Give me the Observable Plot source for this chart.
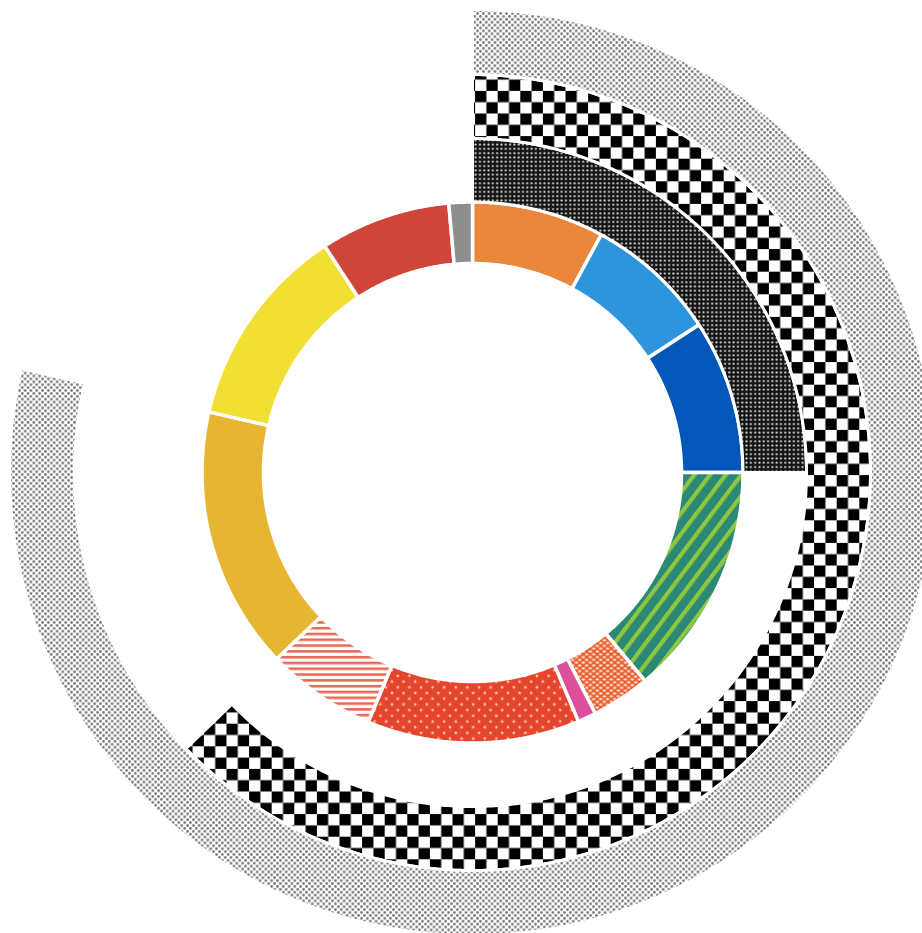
<!DOCTYPE html>
<html>
<head>
<meta charset="utf-8">
<script src="https://cdn.jsdelivr.net/npm/d3@7"></script>
<script src="https://cdn.jsdelivr.net/npm/@observablehq/plot@0.6"></script>
<style>
  html, body { margin: 0; padding: 0; background: #fff; overflow: hidden; }
  #chart svg { display: block; }
</style>
</head>
<body>
<div id="chart"></div>
<script>
// ---- Data (percent of full circle) ----
const categories = ["Orange", "Light blue", "Dark blue", "Green stripes", "Orange lattice", "Pink",
                    "Red dots", "Salmon stripes", "Gold", "Yellow", "Red", "Gray"];
const shares = [7.9, 7.9, 9.2, 14.0, 3.5, 1.1, 12.7, 6.6, 15.7, 12.2, 7.8, 1.4];
const fills = ["#E9873D", "#2E95DC", "#0457B9", "url(#p-green)", "url(#p-lattice)", "#DE4F9B",
               "url(#p-reddots)", "url(#p-hstripes)", "#E6B532", "#F2DF33", "#D0453A", "#8E8E8E"];

const outerRings = ["Dark dots", "Checker", "Light dots"];
const outerShares = [25.0, 62.8, 78.6];
const outerFills = ["url(#p-darkdots)", "url(#p-checker)", "url(#p-lightdots)"];

// ---- Layout ----
const W = 922, H = 933;
const ringEdges = [209, 270.5, 334, 398, 463]; // radii of ring boundaries (px units)

function arcPoints(p0, p1, r0, r1) {
  const a0 = p0 / 100 * 2 * Math.PI, a1 = p1 / 100 * 2 * Math.PI;
  const n = Math.max(2, Math.ceil((a1 - a0) / (Math.PI / 360)));
  const pts = [];
  for (let i = 0; i <= n; i++) { const a = a0 + (a1 - a0) * i / n; pts.push({x: r1 * Math.sin(a), y: r1 * Math.cos(a)}); }
  for (let i = n; i >= 0; i--) { const a = a0 + (a1 - a0) * i / n; pts.push({x: r0 * Math.sin(a), y: r0 * Math.cos(a)}); }
  pts.push(pts[0]);
  return pts;
}

const marks = [];
let cum = 0;
shares.forEach((s, i) => {
  const pts = arcPoints(cum, cum + s, ringEdges[0], ringEdges[1]);
  cum += s;
  marks.push(Plot.line(pts, {x: "x", y: "y", fill: fills[i], stroke: "white", strokeWidth: 3.5, strokeLinejoin: "miter", title: () => categories[i]}));
});
outerShares.forEach((s, i) => {
  const pts = arcPoints(0, s, ringEdges[i + 1], ringEdges[i + 2]);
  marks.push(Plot.line(pts, {x: "x", y: "y", fill: outerFills[i], stroke: "white", strokeWidth: 3, strokeLinejoin: "miter", title: () => outerRings[i]}));
});

const svg = Plot.plot({
  width: W, height: H,
  margin: 0,
  x: {domain: [-472, W - 472], axis: null},
  y: {domain: [-(H - 472), 472], axis: null},
  marks
});

// ---- Patterns ----
const defs = d3.select(svg).insert("defs", ":first-child");
function pat(id, w, h, build, transform) {
  const p = defs.append("pattern").attr("id", id).attr("patternUnits", "userSpaceOnUse")
    .attr("width", w).attr("height", h);
  if (transform) p.attr("patternTransform", transform);
  build(p);
}
pat("p-green", 12.5, 12.5, p => {
  p.append("rect").attr("width", 12.5).attr("height", 12.5).attr("fill", "#2B8776");
  p.append("rect").attr("width", 12.5).attr("height", 4.2).attr("fill", "#8DC63F");
}, "rotate(-53)");
pat("p-lattice", 7, 5.6, p => {
  p.append("rect").attr("width", 7).attr("height", 5.6).attr("fill", "#E95D2C");
  p.append("ellipse").attr("cx", 1.75).attr("cy", 1.4).attr("rx", 1.8).attr("ry", 1.1).attr("fill", "#FDE6D6");
  p.append("ellipse").attr("cx", 5.25).attr("cy", 4.2).attr("rx", 1.8).attr("ry", 1.1).attr("fill", "#FDE6D6");
});
pat("p-reddots", 11.6, 11.4, p => {
  p.append("rect").attr("width", 11.6).attr("height", 11.4).attr("fill", "#E5442F");
  p.append("circle").attr("cx", 2.9).attr("cy", 2.85).attr("r", 1.4).attr("fill", "#F8C49A");
  p.append("circle").attr("cx", 8.7).attr("cy", 8.55).attr("r", 1.4).attr("fill", "#F8C49A");
});
pat("p-hstripes", 6, 5.8, p => {
  p.append("rect").attr("width", 6).attr("height", 5.8).attr("fill", "#FFFFFF");
  p.append("rect").attr("width", 6).attr("height", 2.6).attr("fill", "#E76A57");
});
pat("p-darkdots", 4.3, 4.3, p => {
  p.append("rect").attr("width", 4.3).attr("height", 4.3).attr("fill", "#141414");
  p.append("circle").attr("cx", 2.15).attr("cy", 2.15).attr("r", 1.1).attr("fill", "#D0D0D0");
});
pat("p-checker", 22.6, 22.6, p => {
  p.append("rect").attr("width", 22.6).attr("height", 22.6).attr("fill", "#FFFFFF");
  p.append("rect").attr("width", 11.3).attr("height", 11.3).attr("fill", "#000");
  p.append("rect").attr("x", 11.3).attr("y", 11.3).attr("width", 11.3).attr("height", 11.3).attr("fill", "#000");
});
pat("p-lightdots", 5.8, 5.8, p => {
  p.append("rect").attr("width", 5.8).attr("height", 5.8).attr("fill", "#FFFFFF");
  p.append("circle").attr("cx", 1.45).attr("cy", 1.45).attr("r", 1.35).attr("fill", "#777777");
  p.append("circle").attr("cx", 4.35).attr("cy", 4.35).attr("r", 1.35).attr("fill", "#777777");
});

document.getElementById("chart").appendChild(svg);
</script>
</body>
</html>
